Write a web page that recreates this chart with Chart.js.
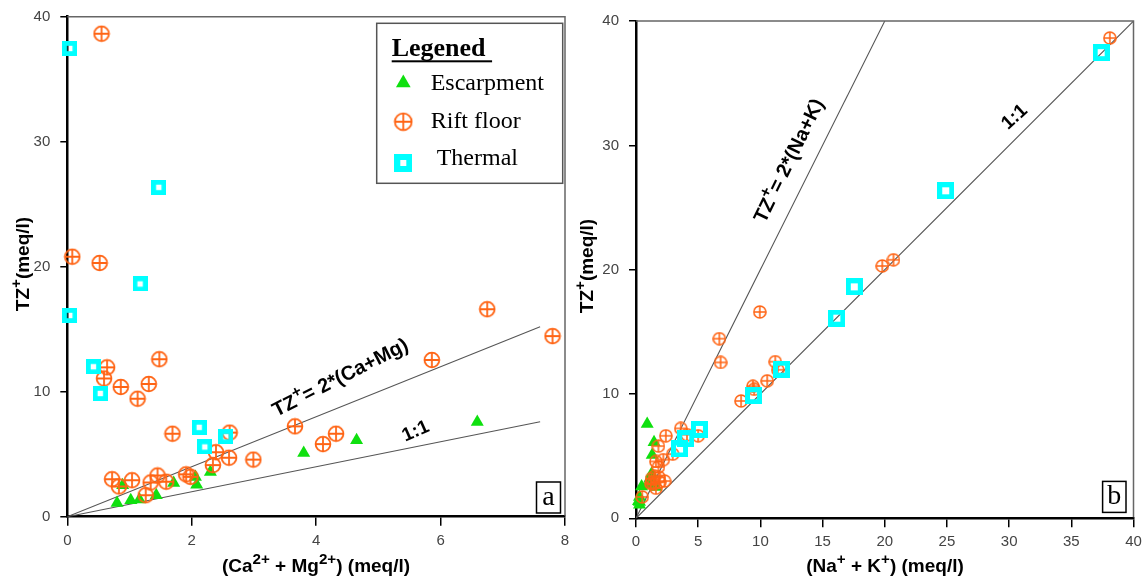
<!DOCTYPE html>
<html>
<head>
<meta charset="utf-8">
<script src="https://cdn.jsdelivr.net/npm/chart.js@4.4.1/dist/chart.umd.min.js"></script>
<style>
  body { margin: 0; background: #fff; }
  #wrap { position: relative; width: 1143px; height: 576px; overflow: hidden; }
  canvas { position: absolute; top: 0; }
  #chartA { left: 0; }
  #chartB { left: 575px; }
</style>
</head>
<body>
<div id="wrap">
  <canvas id="chartA" width="575" height="576"></canvas>
  <canvas id="chartB" width="568" height="576"></canvas>
</div>
<script>
// Escarpment samples
const escTZ   = [1.10, 2.52, 1.32, 1.38, 1.72, 2.70, 3.18, 2.56, 3.58, 5.10, 6.12, 7.58];
const escCaMg = [0.80, 0.89, 1.02, 1.16, 1.43, 1.71, 2.06, 2.08, 2.30, 3.80, 4.65, 6.59];
const escNaK  = [0.28, 1.60, 0.28, 0.20, 0.28, 0.95, 1.10, 0.45, 1.25, 1.30, 1.45, 0.90];

// Rift floor samples
const rftTZ   = [38.64, 20.80, 20.30, 16.60, 14.45, 12.60, 12.54, 11.95, 11.06, 10.62, 10.38, 9.44,
                 7.23, 6.73, 6.64, 6.64, 5.81, 5.16, 4.72, 4.57, 4.13, 3.30, 3.39, 3.19, 3.00, 2.92,
                 2.80, 2.74, 2.42, 1.72];
const rftCaMg = [0.55, 0.08, 0.52, 6.75, 7.80, 1.48, 5.86, 0.64, 0.59, 1.31, 0.86, 1.13,
                 3.66, 2.61, 1.69, 4.32, 4.11, 2.39, 2.60, 2.99, 2.34, 1.45, 1.91, 1.98, 0.72, 1.04,
                 1.59, 1.34, 0.83, 1.26];
const rftNaK  = [38.10, 20.70, 19.80, 9.95, 6.70, 11.20, 6.80, 11.40, 10.55, 9.40, 9.50, 8.45,
                 3.60, 4.10, 5.00, 2.40, 1.80, 2.95, 2.20, 1.60, 1.80, 1.85, 1.50, 1.25, 2.30, 1.90,
                 1.20, 1.40, 1.60, 0.50];

// Thermal samples
const thmTZ   = [37.46, 26.35, 18.62, 16.10, 12.00, 9.86, 7.15, 5.58, 6.40];
const thmCaMg = [0.04, 1.47, 1.17, 0.04, 0.42, 0.53, 2.12, 2.21, 2.55];
const thmNaK  = [37.40, 24.90, 17.55, 16.15, 11.70, 9.45, 5.10, 3.50, 4.00];

// reference lines TZ = x and TZ = 2x
const lineA1to1 = [{ x: 0, y: 0 }, { x: 7.6, y: 7.6 }];
const lineA2to1 = [{ x: 0, y: 0 }, { x: 7.6, y: 15.2 }];
const lineB1to1 = [{ x: 0, y: 0 }, { x: 40, y: 40 }];
const lineB2to1 = [{ x: 0, y: 0 }, { x: 20, y: 40 }];

const xTicksA = [0, 2, 4, 6, 8];
const xTicksB = [0, 5, 10, 15, 20, 25, 30, 35, 40];
const yTicks  = [0, 10, 20, 30, 40];

const legendTitle = 'Legened';
const legendLabels = ['Escarpment', 'Rift floor', ' Thermal'];

const GREEN = '#0fe00f';
const ORANGE = '#ff6414';
const CYAN = '#00ffff';
const SANS = '"Liberation Sans", Arial, sans-serif';
const SERIF = '"Liberation Serif", "Times New Roman", serif';

function crossCircle(size, r, lw) {
    const c = document.createElement('canvas');
    c.width = size; c.height = size;
    const g = c.getContext('2d');
    const m = size / 2;
    g.strokeStyle = ORANGE;
    g.lineWidth = lw;
    g.beginPath(); g.arc(m, m, r, 0, Math.PI * 2); g.stroke();
    g.beginPath();
    g.moveTo(m - r, m); g.lineTo(m + r, m);
    g.moveTo(m, m - r); g.lineTo(m, m + r);
    g.stroke();
    return c;
}

function hollowSquare(size, lw) {
    const c = document.createElement('canvas');
    c.width = size; c.height = size;
    const g = c.getContext('2d');
    g.strokeStyle = CYAN;
    g.lineWidth = lw;
    g.strokeRect(lw / 2, lw / 2, size - lw, size - lw);
    return c;
}

const pts = (xs, ys) => xs.map((x, i) => ({ x: x, y: ys[i] }));

function richText(ctx, parts, x, y, size, angle) {
    ctx.save();
    ctx.translate(x, y);
    ctx.rotate(angle * Math.PI / 180);
    ctx.textAlign = 'left';
    ctx.textBaseline = 'alphabetic';
    ctx.fillStyle = '#000';
    const fontOf = p => 'bold ' + (p.sup ? size * 0.8 : size) + 'px ' + SANS;
    let total = 0;
    const widths = parts.map(p => {
        ctx.font = fontOf(p);
        const w = ctx.measureText(p.t).width;
        total += w;
        return w;
    });
    let cx = -total / 2;
    parts.forEach((p, i) => {
        ctx.font = fontOf(p);
        ctx.fillText(p.t, cx, size * 0.36 - (p.sup ? size * 0.42 : 0));
        cx += widths[i];
    });
    ctx.restore();
}

function drawLegend(ctx, lg) {
    ctx.save();
    ctx.strokeStyle = '#555';
    ctx.lineWidth = 1.5;
    ctx.strokeRect(lg.x, lg.y, lg.w, lg.h);
    ctx.fillStyle = '#000';
    ctx.textAlign = 'left';
    ctx.textBaseline = 'alphabetic';
    ctx.font = 'bold 26px ' + SERIF;
    ctx.fillText(legendTitle, lg.x + 15, lg.y + 33);
    const tw = ctx.measureText(legendTitle + ' ').width;
    ctx.fillRect(lg.x + 15, lg.y + 37, tw, 2);
    ctx.font = '24px ' + SERIF;
    lg.rows.forEach((row, i) => {
        ctx.fillStyle = row.color;
        Chart.helpers.drawPoint(ctx, { pointStyle: row.style, radius: row.radius, rotation: 0 },
            lg.x + 26.6, lg.y + row.my);
        ctx.fillStyle = '#000';
        ctx.fillText(legendLabels[i], lg.x + 54, lg.y + row.ty);
    });
    ctx.restore();
}

const panelDecor = {
    id: 'panelDecor',
    afterDraw(chart, args, opts) {
        const { ctx, chartArea: a, scales } = chart;
        ctx.save();
        // thin top / right frame
        ctx.strokeStyle = '#666';
        ctx.lineWidth = 1.5;
        ctx.beginPath();
        ctx.moveTo(a.left, a.top);
        ctx.lineTo(a.right, a.top);
        ctx.lineTo(a.right, a.bottom - 1);
        ctx.stroke();
        // panel letter
        const b = opts.letterBox;
        ctx.strokeStyle = '#000';
        ctx.lineWidth = 1.5;
        ctx.strokeRect(b.x, b.y, b.w, b.h);
        ctx.fillStyle = '#000';
        ctx.font = '28px ' + SERIF;
        ctx.textAlign = 'center';
        ctx.textBaseline = 'alphabetic';
        ctx.fillText(opts.letter, b.x + b.w / 2, b.y + b.h - 8);
        ctx.restore();

        richText(ctx, opts.xTitle, opts.xTitlePos[0], opts.xTitlePos[1], 19, 0);
        richText(ctx, opts.yTitle, opts.yTitlePos[0], opts.yTitlePos[1], 19, -90);
        opts.lineLabels.forEach(l => {
            richText(ctx, l.parts, scales.x.getPixelForValue(l.at[0]),
                scales.y.getPixelForValue(l.at[1]), l.size, l.angle);
        });
        if (opts.legend) drawLegend(ctx, opts.legend);
    }
};

function makePanel(id, p) {
    return new Chart(document.getElementById(id), {
        type: 'scatter',
        data: {
            datasets: [
                { label: 'Thermal', data: p.thermal, pointStyle: p.sqImg, pointRadius: p.sqImg.width / 2, order: 1, clip: false },
                { label: 'Rift floor', data: p.rift, pointStyle: p.ccImg, pointRadius: p.ccImg.width / 2, order: 2, clip: false },
                { label: 'Escarpment', data: p.esc, pointStyle: 'triangle', pointRadius: 7.5,
                  backgroundColor: GREEN, borderColor: GREEN, borderWidth: 0, order: 3, clip: false },
                { label: '1:1', data: p.line1, showLine: true, pointRadius: 0, borderColor: '#555', borderWidth: 1.1, order: 4 },
                { label: '2:1', data: p.line2, showLine: true, pointRadius: 0, borderColor: '#555', borderWidth: 1.1, order: 4 }
            ]
        },
        options: {
            responsive: false,
            animation: false,
            events: [],
            layout: { padding: p.pad },
            plugins: {
                legend: { display: false },
                tooltip: { enabled: false },
                panelDecor: p.decor
            },
            scales: {
                x: {
                    type: 'linear',
                    min: p.xTicks[0],
                    max: p.xTicks[p.xTicks.length - 1],
                    afterBuildTicks: s => { s.ticks = p.xTicks.map(v => ({ value: v })); },
                    afterFit: s => { s.height = p.xAxisH; s.paddingLeft = 0; s.paddingRight = 0; },
                    grid: { drawOnChartArea: false, drawTicks: true, tickLength: 9, color: '#000', lineWidth: 1.5 },
                    border: { display: true, color: '#000', width: 2.5 },
                    ticks: { color: '#444', font: { family: SANS, size: 15 }, padding: 6, maxRotation: 0, autoSkip: false }
                },
                y: {
                    type: 'linear',
                    min: 0,
                    max: 40,
                    afterBuildTicks: s => { s.ticks = yTicks.map(v => ({ value: v })); },
                    afterFit: s => { s.width = p.yAxisW; s.paddingTop = 0; s.paddingBottom = 0; },
                    grid: { drawOnChartArea: false, drawTicks: true, tickLength: 7, color: '#000', lineWidth: 1.5 },
                    border: { display: true, color: '#000', width: 2.5 },
                    ticks: { color: '#444', font: { family: SANS, size: 15 }, padding: 10, autoSkip: false }
                }
            }
        },
        plugins: [panelDecor]
    });
}

const yTitleParts = [{ t: 'TZ' }, { t: '+', sup: true }, { t: '(meq/l)' }];

makePanel('chartA', {
    thermal: pts(thmCaMg, thmTZ),
    rift: pts(rftCaMg, rftTZ),
    esc: pts(escCaMg, escTZ),
    line1: lineA1to1,
    line2: lineA2to1,
    xTicks: xTicksA,
    sqImg: hollowSquare(15, 4.8),
    ccImg: crossCircle(18, 7.4, 1.8),
    pad: { left: 0, right: 7.7, top: 16.7, bottom: 0 },
    xAxisH: 59.3,
    yAxisW: 67.3,
    decor: {
        letter: 'a',
        letterBox: { x: 536.5, y: 482, w: 24, h: 31 },
        xTitle: [{ t: '(Ca' }, { t: '2+', sup: true }, { t: ' + Mg' }, { t: '2+', sup: true }, { t: ') (meq/l)' }],
        xTitlePos: [316, 565],
        yTitle: yTitleParts,
        yTitlePos: [22, 264],
        lineLabels: [
            { parts: [{ t: 'TZ' }, { t: '+', sup: true }, { t: '= 2*(Ca+Mg)' }], at: [4.38, 11.2], size: 20, angle: -27 },
            { parts: [{ t: '1:1' }], at: [5.59, 6.94], size: 19, angle: -24 }
        ],
        legend: {
            x: 376.7, y: 23.3, w: 186, h: 160,
            rows: [
                { style: 'triangle', radius: 8.5, color: GREEN, my: 59.7, ty: 66.7 },
                { style: crossCircle(20, 8.4, 1.8), radius: 9, color: ORANGE, my: 98.4, ty: 104.7 },
                { style: hollowSquare(18, 6), radius: 9, color: CYAN, my: 139.7, ty: 141.7 }
            ]
        }
    }
});

makePanel('chartB', {
    thermal: pts(thmNaK, thmTZ),
    rift: pts(rftNaK, rftTZ),
    esc: pts(escNaK, escTZ),
    line1: lineB1to1,
    line2: lineB2to1,
    xTicks: xTicksB,
    sqImg: hollowSquare(17, 5),
    ccImg: crossCircle(14, 6, 1.6),
    pad: { left: 0, right: 7.7, top: 21.1, bottom: 0 },
    xAxisH: 57.7,
    yAxisW: 61,
    decor: {
        letter: 'b',
        letterBox: { x: 527.6, y: 481.4, w: 23.4, h: 31 },
        xTitle: [{ t: '(Na' }, { t: '+', sup: true }, { t: ' + K' }, { t: '+', sup: true }, { t: ') (meq/l)' }],
        xTitlePos: [310, 565],
        yTitle: yTitleParts,
        yTitlePos: [11, 266],
        lineLabels: [
            { parts: [{ t: 'TZ' }, { t: '+', sup: true }, { t: '= 2*(Na+K)' }], at: [12.23, 28.8], size: 20, angle: -64 },
            { parts: [{ t: '1:1' }], at: [30.36, 32.37], size: 19, angle: -42 }
        ],
        legend: null
    }
});
</script>
</body>
</html>
